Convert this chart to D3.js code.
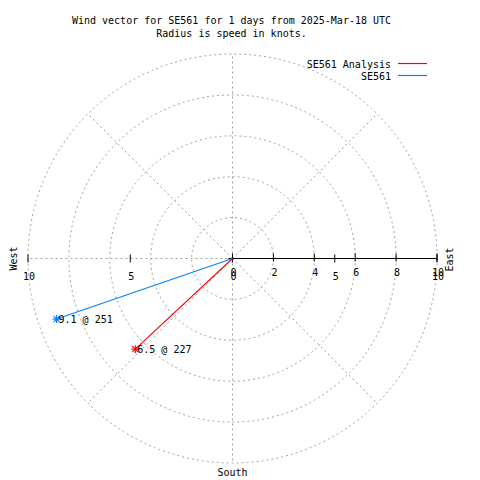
<!DOCTYPE html>
<html>
<head>
<meta charset="utf-8">
<script src="https://cdn.jsdelivr.net/npm/d3@7"></script>
<style>
  html, body { margin: 0; padding: 0; background: #fff; }
  svg { display: block; }
  text { font-family: "DejaVu Sans Mono", monospace; font-size: 10px; fill: #000; }
</style>
</head>
<body>
<script>
// ---- data ----
const titleLines = ["Wind vector for SE561 for 1 days from 2025-Mar-18 UTC", "Radius is speed in knots."];
const seriesNames = ["SE561 Analysis", "SE561"];
const speeds = [6.5, 9.1];          // knots
const directions = [227, 251];      // degrees
const radialTicks = [0, 2, 4, 6, 8, 10];
const xTicks = [-10, -5, 0, 5, 10];
const gridRadii = [2, 4, 6, 8, 10];
const gridAngles = [0, 45, 90, 135, 180, 225, 270, 315];

// ---- layout ----
const W = 480, H = 480;
const cx = 232.5, cy = 258.5;
const R = 204.5;
const seriesColors = ["#ff0000", "#0080ff"];
const gridColor = "#a0a0a0";

const svg = d3.select("body").append("svg").attr("width", W).attr("height", H);
svg.append("rect").attr("width", W).attr("height", H).attr("fill", "#fff");

const r = d3.scaleLinear().domain([0, 10]).range([0, R]);
const x = d3.scaleLinear().domain([-10, 10]).range([cx - R, cx + R]);
const px = (deg, v) => cx + r(v) * Math.sin(deg * Math.PI / 180);
const py = (deg, v) => cy - r(v) * Math.cos(deg * Math.PI / 180);

// grid circles
svg.append("g").selectAll("circle").data(gridRadii).join("circle")
  .attr("cx", cx).attr("cy", cy).attr("r", d => r(d))
  .attr("fill", "none").attr("stroke", gridColor).attr("stroke-width", 1)
  .attr("stroke-dasharray", "2,3");

// grid spokes
svg.append("g").selectAll("line").data(gridAngles).join("line")
  .attr("x1", cx).attr("y1", cy)
  .attr("x2", d => px(d, 10)).attr("y2", d => py(d, 10))
  .attr("stroke", gridColor).attr("stroke-width", 1)
  .attr("stroke-dasharray", "2,3");

// radial axis (east)
const ax = svg.append("g");
ax.append("line").attr("x1", cx).attr("x2", x(10)).attr("y1", cy).attr("y2", cy)
  .attr("stroke", "#000");
ax.selectAll("line.rt").data(radialTicks).join("line").attr("class", "rt")
  .attr("x1", d => cx + r(d)).attr("x2", d => cx + r(d))
  .attr("y1", cy - 5).attr("y2", cy + 3).attr("stroke", "#000");
ax.selectAll("line.xt").data(xTicks).join("line").attr("class", "xt")
  .attr("x1", d => x(d)).attr("x2", d => x(d))
  .attr("y1", cy - 4).attr("y2", cy + 4).attr("stroke", "#000");
ax.append("line").attr("x1", cx - 4).attr("x2", cx).attr("y1", cy).attr("y2", cy).attr("stroke", "#000");

svg.append("g").selectAll("text").data(radialTicks).join("text")
  .attr("x", d => cx + r(d) + 1).attr("y", cy + 17)
  .attr("text-anchor", "middle").text(d => d);
svg.append("g").selectAll("text").data(xTicks).join("text")
  .attr("x", d => x(d) + 1).attr("y", cy + 21)
  .attr("text-anchor", "middle").text(d => Math.abs(d));

// compass labels
svg.append("text").attr("transform", `translate(453,${cy + 1}) rotate(-90)`)
  .attr("text-anchor", "middle").text("East");
svg.append("text").attr("transform", `translate(17,${cy}) rotate(-90)`)
  .attr("text-anchor", "middle").text("West");
svg.append("text").attr("x", cx).attr("y", 476).attr("text-anchor", "middle").text("South");

// title
svg.append("g").selectAll("text").data(titleLines).join("text")
  .attr("x", 231.5).attr("y", (d, i) => 24 + i * 13)
  .attr("text-anchor", "middle").text(d => d);

// vectors
const vec = svg.append("g");
seriesNames.forEach((name, i) => {
  const ex = px(directions[i], speeds[i]), ey = py(directions[i], speeds[i]);
  vec.append("line").attr("x1", cx).attr("y1", cy).attr("x2", ex).attr("y2", ey)
    .attr("stroke", seriesColors[i]).attr("stroke-width", 1.1);
  const s = vec.append("g").attr("stroke", seriesColors[i]).attr("stroke-width", 1.2);
  s.append("line").attr("x1", ex - 4).attr("x2", ex + 4).attr("y1", ey).attr("y2", ey);
  s.append("line").attr("x1", ex).attr("x2", ex).attr("y1", ey - 4).attr("y2", ey + 4);
  s.append("line").attr("x1", ex - 3).attr("x2", ex + 3).attr("y1", ey - 3).attr("y2", ey + 3);
  s.append("line").attr("x1", ex - 3).attr("x2", ex + 3).attr("y1", ey + 3).attr("y2", ey - 3);
  vec.append("text").attr("x", ex + 2).attr("y", ey + 4)
    .text(`${speeds[i].toFixed(1)} @ ${directions[i]}`);
});

// legend
const lg = svg.append("g");
seriesNames.forEach((name, i) => {
  const yy = 63.5 + i * 12;
  lg.append("text").attr("x", 391).attr("y", yy + 4).attr("text-anchor", "end").text(name);
  lg.append("line").attr("x1", 398).attr("x2", 427).attr("y1", yy).attr("y2", yy)
    .attr("stroke", seriesColors[i]).attr("stroke-width", 1.2);
});
</script>
</body>
</html>
